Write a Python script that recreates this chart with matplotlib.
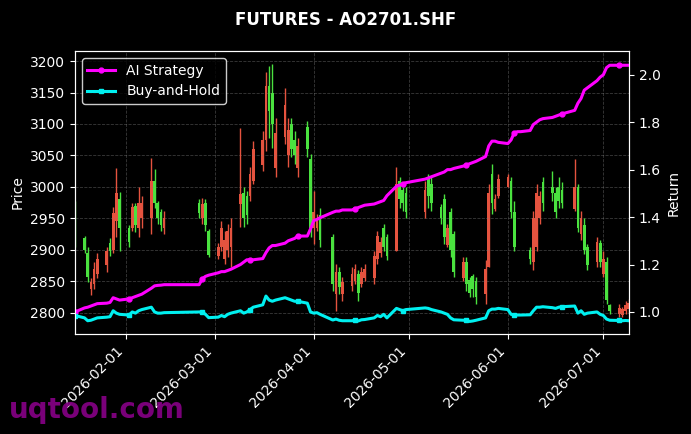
import matplotlib
matplotlib.use("Agg")
import matplotlib.pyplot as plt
import matplotlib.dates as mdates
import numpy as np
import pandas as pd

# trading calendar: weekdays minus exchange holidays
start_day = "2026-01-16"
end_day = "2026-07-09"
holidays = ["2026-02-16", "2026-02-17", "2026-02-18", "2026-02-19", "2026-02-20",
            "2026-02-23", "2026-04-06", "2026-05-01", "2026-05-04", "2026-05-05",
            "2026-06-19"]

# OHLC, one row per trading week
opens = [2965,
         2918, 2895, 2838, 2845, 2862,
         2875, 2910, 2900, 2945, 2980,
         2935, 2935, 2970, 2935, 2950,
         2950, 3010, 2975, 2960, 2935,
         2975, 2950, 2975, 2930,
         2890, 2905, 2885, 2900, 2905,
         2973, 2990, 2985, 2985, 3010,
         3035, 3075, 3160, 3150, 3030,
         3080, 3050, 3100, 3075, 3030,
         3095, 3045, 2935, 2935, 2955,
         2920, 2830, 2865, 2830,
         2842, 2850, 2862, 2845, 2855,
         2855, 2885, 2895, 2935, 2920,
         2898, 3010, 2995, 2990,
         2960, 3012, 3005,
         2968, 2980, 2908, 2960, 2925,
         2855, 2880, 2852, 2858, 2850,
         2830, 2872, 3020, 2965, 2985,
         3000, 3010, 2960, np.nan, np.nan,
         2900, 2880, 2905, 2950, 3008,
         3000, 2990, 3000, 2995,
         2965, 3000, 2925, 2940, 2905,
         2880, 2910, 2862, 2880, 2812,
         2798, 2796, 2802, 2805]
highs = [2978,
         2922, 2905, 2855, 2880, 2895,
         2905, 2918, 2968, 3030, 2992,
         2940, 2975, 2975, 3000, 2985,
         3046, 3028, 2978, 2965, 2962,
         2980, 2983, 2980, 2933,
         2910, 2946, 2930, 2941, 2951,
         3094, 2999, 2994, 3031, 3073,
         3089, 3182, 3192, 3195, 3110,
         3158, 3110, 3110, 3089, 3078,
         3105, 3052, 2994, 2957, 2967,
         2925, 2877, 2872, 2856,
         2872, 2877, 2867, 2872, 2877,
         2898, 2930, 2920, 2941, 2925,
         3031, 3015, 2999, 2999,
         3010, 3020, 3015,
         2972, 2988, 2941, 2967, 2930,
         2888, 2888, 2856, 2862, 2856,
         2883, 3004, 3036, 2988, 3020,
         3020, 3015, 2978, np.nan, np.nan,
         2904, 2962, 3004, 2994, 3015,
         3025, 2999, 3015, 3007,
         3044, 3004, 2962, 2951, 2909,
         2920, 2915, 2898, 2888, 2814,
         2814, 2809, 2819, 2822]
lows = [2905,
        2895, 2848, 2828, 2838, 2855,
        2865, 2890, 2895, 2920, 2898,
        2905, 2930, 2928, 2920, 2935,
        2925, 2967, 2941, 2930, 2925,
        2951, 2941, 2930, 2888,
        2885, 2898, 2877, 2888, 2872,
        2936, 2936, 2941, 2978, 3004,
        3026, 3057, 3078, 3062, 3015,
        3068, 3031, 3047, 3036, 3015,
        3047, 2920, 2909, 2930, 2904,
        2835, 2803, 2830, 2819,
        2835, 2846, 2819, 2840, 2851,
        2846, 2877, 2888, 2898, 2883,
        2898, 2967, 2962, 2951,
        2951, 2967, 2962,
        2941, 2909, 2904, 2888, 2856,
        2851, 2835, 2825, 2825, 2814,
        2814, 2872, 2957, 2962, 2983,
        2999, 2951, 2898, np.nan, np.nan,
        2877, 2867, 2898, 2941, 2962,
        2978, 2951, 2967, 2967,
        2962, 2928, 2915, 2893, 2867,
        2872, 2872, 2856, 2814, 2798,
        2793, 2793, 2798, 2800]
closes = [2915,
          2900, 2856, 2848, 2870, 2885,
          2898, 2898, 2958, 2990, 2935,
          2912, 2968, 2940, 2975, 2975,
          3010, 2975, 2950, 2940, 2950,
          2958, 2972, 2940, 2892,
          2905, 2935, 2915, 2930, 2935,
          2988, 2950, 2955, 3020, 3060,
          3075, 3160, 3120, 3100, 3085,
          3130, 3090, 3060, 3050, 3065,
          3060, 2935, 2960, 2950, 2915,
          2845, 2865, 2840, 2848,
          2862, 2870, 2832, 2865, 2870,
          2890, 2922, 2912, 2905, 2890,
          3004, 2980, 2975, 2960,
          2995, 2985, 2975,
          2950, 2920, 2935, 2900, 2865,
          2880, 2845, 2832, 2838, 2825,
          2870, 2990, 2975, 2980, 3012,
          3015, 2960, 2905, np.nan, np.nan,
          2885, 2950, 2990, 2985, 2975,
          2990, 2960, 2978, 2975,
          3000, 2935, 2950, 2900, 2875,
          2912, 2880, 2885, 2820, 2802,
          2808, 2805, 2812, 2815]

ai_strategy = [1.000,
               1.017, 1.020, 1.025, 1.030, 1.035,
               1.037, 1.040, 1.060, 1.055, 1.050,
               1.055, 1.060, 1.065, 1.070, 1.075,
               1.100, 1.110, 1.112, 1.113, 1.115,
               1.115, 1.140, 1.150, 1.155,
               1.165, 1.170, 1.170, 1.175, 1.180,
               1.200, 1.210, 1.220, 1.220, 1.220,
               1.225, 1.250, 1.270, 1.280, 1.280,
               1.290, 1.300, 1.305, 1.310, 1.320,
               1.320, 1.350, 1.385, 1.390, 1.397,
               1.420, 1.425, 1.425, 1.430,
               1.430, 1.435, 1.440, 1.445, 1.450,
               1.455, 1.460, 1.465, 1.470, 1.490,
               1.530, 1.535, 1.540, 1.545,
               1.560, 1.565, 1.570,
               1.585, 1.590, 1.600, 1.600, 1.605,
               1.615, 1.620, 1.625, 1.630, 1.635,
               1.655, 1.700, 1.720, 1.720, 1.715,
               1.710, 1.725, 1.755, 1.760, 1.760,
               1.765, 1.790, 1.800, 1.810, 1.815,
               1.820, 1.825, 1.830, 1.835,
               1.850, 1.880, 1.900, 1.935, 1.945,
               1.975, 1.990, 2.000, 2.030, 2.040,
               2.040, 2.040, 2.040, 2.040]
buy_hold = [0.985,
            0.975, 0.963, 0.965, 0.970, 0.975,
            0.978, 0.980, 1.005, 0.995, 0.990,
            0.987, 1.000, 0.995, 1.005, 1.010,
            1.020, 1.000, 0.995, 0.995, 0.997,
            1.000, 1.000, 0.990, 0.976,
            0.978, 0.985, 0.980, 0.990, 0.995,
            1.005, 0.995, 1.000, 1.010, 1.020,
            1.030, 1.067, 1.050, 1.045, 1.050,
            1.060, 1.055, 1.050, 1.045, 1.045,
            1.037, 1.000, 0.995, 0.997, 0.990,
            0.966, 0.970, 0.965, 0.963,
            0.963, 0.965, 0.962, 0.967, 0.968,
            0.975, 0.985, 0.980, 0.990, 0.975,
            1.015, 1.010, 1.005, 1.010,
            1.017, 1.015, 1.010,
            1.000, 0.995, 0.990, 0.975, 0.967,
            0.965, 0.966, 0.960, 0.962, 0.965,
            0.975, 1.005, 1.012, 1.012, 1.015,
            1.010, 0.990, 0.987, 0.987, 0.987,
            0.988, 1.005, 1.020, 1.020, 1.022,
            1.018, 1.015, 1.020, 1.022,
            1.025, 0.995, 1.005, 0.990, 0.995,
            1.000, 0.990, 0.985, 0.970, 0.965,
            0.964, 0.963, 0.964, 0.963]

dates = pd.bdate_range(start_day, end_day)
dates = dates[~dates.isin(pd.to_datetime(holidays))]

df = pd.DataFrame({"open": opens, "high": highs, "low": lows, "close": closes,
                   "ai": ai_strategy, "bh": buy_hold}, index=dates)

up_color = "#e5533f"
down_color = "#4ae23f"

fig = plt.figure(figsize=(6.91, 4.34), dpi=100, facecolor="black")
ax = fig.add_axes([0.1085, 0.2304, 0.8015, 0.652])
ax.set_facecolor("black")

bars = df.dropna(subset=["open"])
x = mdates.date2num(bars.index)
up = (bars["close"] >= bars["open"]).values
colors = np.where(up, up_color, down_color)
ax.vlines(x, bars["low"], bars["high"], colors=colors, linewidth=1.0)
body_lo = np.minimum(bars["open"], bars["close"])
body_h = np.maximum(np.abs(bars["close"] - bars["open"]), 1.5)
ax.bar(x, body_h, bottom=body_lo, width=0.85, color=colors, linewidth=0)

ax.set_ylim(2766, 3216)
ax.set_yticks(np.arange(2800, 3201, 50))
ax.set_xlim(mdates.date2num(dates[0]), mdates.date2num(dates[-1]))
ax.xaxis.set_major_locator(mdates.MonthLocator())
ax.xaxis.set_major_formatter(mdates.DateFormatter("%Y-%m-%d"))
plt.setp(ax.get_xticklabels(), rotation=45, ha="right")
ax.set_ylabel("Price", color="white")
ax.grid(True, linestyle="--", color="gray", alpha=0.45, linewidth=0.6)

ax2 = ax.twinx()
ax2.plot(df.index, df["ai"], color="#ff00ff", linewidth=2.2, marker="o",
         markersize=3.5, markevery=11, label="AI Strategy")
ax2.plot(df.index, df["bh"], color="#00f0f0", linewidth=2.2, marker="s",
         markersize=3.5, markevery=11, label="Buy-and-Hold")
ax2.set_ylim(0.907, 2.10)
ax2.set_yticks(np.arange(1.0, 2.01, 0.2))
ax2.set_ylabel("Return", color="white")

for a in (ax, ax2):
    a.tick_params(colors="white", labelsize=10)
    for s in a.spines.values():
        s.set_color("white")

leg = ax2.legend(loc="upper left", facecolor="black", edgecolor="white",
                 labelcolor="white", fontsize=10)

fig.suptitle("FUTURES - AO2701.SHF", color="white", fontsize=12,
             fontweight="bold", y=0.975)
fig.text(0.013, 0.037, "uqtool.com", color="purple", fontsize=20,
         fontweight="bold", va="baseline", alpha=0.95)

fig.savefig("out.png", dpi=100, facecolor="black")
